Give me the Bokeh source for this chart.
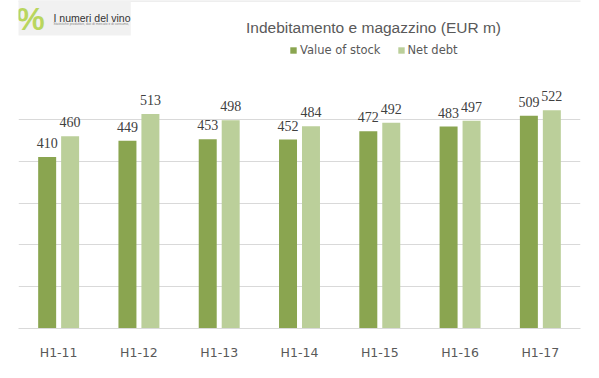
from bokeh.plotting import figure
from bokeh.models import (ColumnDataSource, FactorRange, Range1d, LabelSet, Label,
                          Legend, LegendItem, FixedTicker)
from bokeh.transform import dodge
from bokeh.embed import file_html
from bokeh.resources import INLINE

# ---- data ----
categories = ["H1-11", "H1-12", "H1-13", "H1-14", "H1-15", "H1-16", "H1-17"]
value_of_stock = [410, 449, 453, 452, 472, 483, 509]
net_debt = [460, 513, 498, 484, 492, 497, 522]
series_names = ["Value of stock", "Net debt"]
grid_values = [0, 100, 200, 300, 400, 500]
title_text = "Indebitamento e magazzino (EUR m)"
logo_text = "I numeri del vino"
logo_sub = "Statistiche produttive, dati di mercato e di consumo,"

DARK = "#8AA550"
LIGHT = "#BBCF9A"
TXT = "#595959"
GRID = "#D9D9D9"

W, H = 599, 378
FB = 50  # bottom border -> frame bottom at y=328
p = figure(width=W, height=H, output_backend="svg", toolbar_location=None,
           x_range=FactorRange(factors=categories, range_padding=0),
           y_range=Range1d(0, 784.7), y_axis_location=None,
           min_border_left=18, min_border_right=19, min_border_top=0,
           min_border_bottom=FB)
p.title.visible = False
p.outline_line_color = None
p.background_fill_color = "white"
p.border_fill_color = "white"

src = ColumnDataSource(dict(
    cat=categories,
    stock=value_of_stock,
    debt=net_debt,
    stock_txt=[str(v) for v in value_of_stock],
    debt_txt=[str(v) for v in net_debt],
))

off = 0.143
bw = 0.224
r1 = p.vbar(x=dodge("cat", -off, range=p.x_range), top="stock", width=bw,
            source=src, fill_color=DARK, line_color=None)
r2 = p.vbar(x=dodge("cat", off, range=p.x_range), top="debt", width=bw,
            source=src, fill_color=LIGHT, line_color=None)

lab_kw = dict(text_align="center", text_baseline="alphabetic", y_offset=9,
              text_font_size="14px", text_color="#404040", text_font="DejaVu Sans")
p.add_layout(LabelSet(x=dodge("cat", -off, range=p.x_range), y="stock", text="stock_txt",
                      source=src, **lab_kw))
p.add_layout(LabelSet(x=dodge("cat", off, range=p.x_range), y="debt", text="debt_txt",
                      source=src, **lab_kw))

# axes / grid
p.xgrid.visible = False
p.ygrid.ticker = FixedTicker(ticks=grid_values)
p.ygrid.grid_line_color = GRID
p.xaxis.major_tick_line_color = None
p.xaxis.minor_tick_line_color = None
p.xaxis.axis_line_color = GRID
p.xaxis.major_label_text_font_size = "12.5px"
p.xaxis.major_label_text_font = "DejaVu Sans"
p.xaxis.major_label_text_color = TXT
p.xaxis.major_label_standoff = 10

# legend
legend = Legend(items=[LegendItem(label=series_names[0], renderers=[r1]),
                       LegendItem(label=series_names[1], renderers=[r2])],
                location=(271, 271), orientation="horizontal",
                glyph_width=8, glyph_height=8, label_standoff=3, spacing=16,
                padding=0, margin=0, border_line_color=None,
                background_fill_alpha=0, label_height=14,
                label_text_font_size="11.5px", label_text_font="DejaVu Sans",
                label_text_color=TXT)
p.add_layout(legend, "center")

# title
p.add_layout(Label(x=355, y=301, x_units="screen", y_units="screen", text=title_text,
                   text_align="center", text_baseline="middle",
                   text_font="Liberation Sans", text_font_size="15.5px", text_color=TXT))

# chart border (empty label box spanning the canvas)
p.add_layout(Label(x=281.5, y=139, x_units="screen", y_units="screen", text=" ",
                   anchor="center", text_font_size="1px", padding=(298, 188),
                   border_line_color=GRID, border_line_width=1,
                   background_fill_alpha=0))

# logo area
p.add_layout(Label(x=-18, y=328, x_units="screen", y_units="screen", text=" ",
                   anchor="top_left", text_font_size="1px", padding=(65, 17),
                   border_line_color=None, background_fill_color="#F1F1F1",
                   background_fill_alpha=1))
p.add_layout(Label(x=12, y=310, x_units="screen", y_units="screen", text="%",
                   text_align="center", text_baseline="middle",
                   text_font="Liberation Sans", text_font_style="bold",
                   text_font_size="32px", text_color="#B9D65E"))
p.add_layout(Label(x=35, y=311, x_units="screen", y_units="screen", text=logo_text,
                   text_align="left", text_baseline="alphabetic",
                   text_font="Liberation Sans", text_font_size="10.5px", text_color="#333333"))
p.add_layout(Label(x=35, y=305, x_units="screen", y_units="screen", text=logo_sub,
                   text_align="left", text_baseline="middle",
                   text_font="Liberation Sans", text_font_size="3.3px", text_color="#888888"))

open("out.html", "w").write(file_html(p, INLINE))
